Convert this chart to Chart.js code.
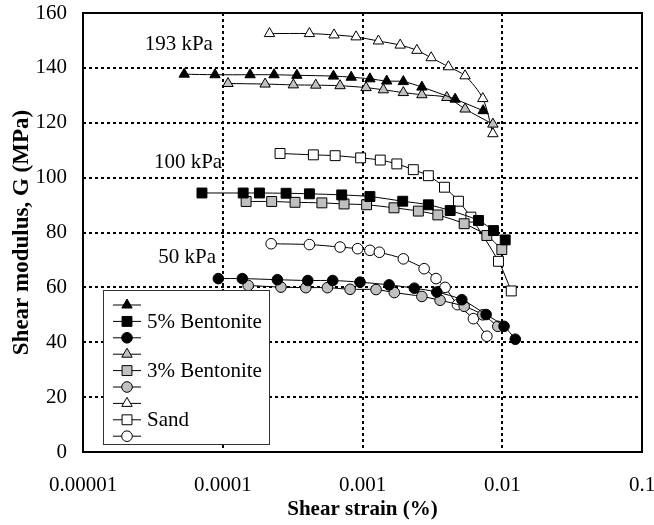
<!DOCTYPE html>
<html><head><meta charset="utf-8">
<script src="https://cdn.jsdelivr.net/npm/chart.js@4.4.0/dist/chart.umd.min.js"></script>
<style>html,body{margin:0;padding:0;background:#fff;} canvas{display:block;}</style>
</head><body>
<canvas id="c" width="654" height="525"></canvas>
<script>
// ---- tick labels ----
const xTickValues = [1e-5, 1e-4, 1e-3, 1e-2, 1e-1];
const xTickLabels = ['0.00001', '0.0001', '0.001', '0.01', '0.1'];
const yTickValues = [0, 20, 40, 60, 80, 100, 120, 140, 160];

// ---- series: shear strain (%) and shear modulus G (MPa) ----
const b5_193_strain = [5.3e-5, 8.8e-5, 1.57e-4, 2.33e-4, 3.39e-4, 6.2e-4, 8.3e-4, 1.13e-3, 1.49e-3, 1.96e-3, 2.66e-3, 4.6e-3, 7.3e-3];
const b5_193_G      = [137.7, 137.5, 137.5, 137.5, 137.3, 137.0, 136.6, 136.0, 135.2, 135.0, 133.0, 128.6, 124.4];
const b5_100_strain = [7.1e-5, 1.40e-4, 1.83e-4, 2.84e-4, 4.17e-4, 7.1e-4, 1.13e-3, 1.94e-3, 2.96e-3, 4.24e-3, 6.76e-3, 8.65e-3, 1.05e-2];
const b5_100_G      = [94.4, 94.4, 94.4, 94.3, 94.1, 93.7, 93.1, 91.4, 90.1, 88.0, 84.4, 80.7, 77.3];
const b5_50_strain  = [9.3e-5, 1.38e-4, 2.46e-4, 4.06e-4, 6.12e-4, 9.6e-4, 1.55e-3, 2.35e-3, 3.4e-3, 5.14e-3, 7.67e-3, 1.03e-2, 1.24e-2];
const b5_50_G       = [63.2, 63.2, 62.8, 62.5, 62.5, 61.9, 60.9, 59.7, 58.3, 55.5, 50.1, 45.8, 41.1];

const b3_193_strain = [1.09e-4, 2.01e-4, 3.2e-4, 4.63e-4, 6.91e-4, 1.06e-3, 1.41e-3, 1.96e-3, 2.66e-3, 4.01e-3, 5.42e-3, 8.57e-3];
const b3_193_G      = [134.3, 134.1, 133.8, 133.7, 133.5, 132.8, 132.0, 131.0, 130.2, 129.2, 125.0, 119.5];
const b3_100_strain = [1.47e-4, 2.24e-4, 3.29e-4, 5.12e-4, 7.38e-4, 1.07e-3, 1.68e-3, 2.51e-3, 3.46e-3, 5.34e-3, 7.76e-3, 9.93e-3];
const b3_100_G      = [91.3, 91.3, 91.0, 90.8, 90.4, 90.1, 89.0, 87.8, 86.4, 83.2, 78.9, 73.8];
const b3_50_strain  = [1.52e-4, 2.61e-4, 3.93e-4, 5.61e-4, 8.15e-4, 1.25e-3, 1.69e-3, 2.66e-3, 3.59e-3, 5.34e-3, 7.26e-3, 9.3e-3];
const b3_50_G       = [60.7, 60.1, 59.9, 59.9, 59.3, 59.2, 58.1, 56.7, 55.3, 53.1, 50.0, 45.8];

const sand_193_strain = [2.16e-4, 4.17e-4, 6.26e-4, 9.0e-4, 1.30e-3, 1.86e-3, 2.45e-3, 3.10e-3, 4.12e-3, 5.42e-3, 7.26e-3, 8.57e-3];
const sand_193_G      = [152.5, 152.5, 152.0, 151.3, 149.8, 148.3, 146.4, 143.7, 140.4, 137.1, 128.8, 116.0];
const sand_100_strain = [2.57e-4, 4.45e-4, 6.37e-4, 9.7e-4, 1.34e-3, 1.76e-3, 2.31e-3, 2.96e-3, 3.86e-3, 4.86e-3, 5.96e-3, 9.4e-3, 1.16e-2];
const sand_100_G      = [108.8, 108.3, 108.0, 107.2, 106.4, 105.0, 102.9, 100.7, 96.5, 91.4, 85.6, 69.5, 58.7];
const sand_50_strain  = [2.22e-4, 4.17e-4, 6.91e-4, 9.23e-4, 1.13e-3, 1.32e-3, 1.96e-3, 2.76e-3, 3.36e-3, 3.9e-3, 4.78e-3, 6.22e-3, 7.76e-3];
const sand_50_G       = [75.9, 75.6, 74.7, 74.1, 73.5, 72.8, 70.4, 66.8, 63.2, 60.0, 53.7, 48.6, 42.2];

const legendNames = ['', '5% Bentonite', '', '', '3% Bentonite', '', '', 'Sand', ''];

// ---- pressure labels (anchored in data space: right edge strain, G) ----
const pressureLabels = ['193 kPa', '100 kPa', '50 kPa'];
const pressureLabelStrain = [8.5e-5, 9.9e-5, 8.95e-5];
const pressureLabelG = [148.7, 105.5, 70.9];

// ---- styles ----
const FONT = '"Liberation Serif", "Times New Roman", serif';
const BLACK = '#000000', GREY = '#c0c0c0', WHITE = '#ffffff';
const R = { triangle: 6, rect: 7, circle: 5.3 };

function series(label, xs, gs, style, fill) {
  return {
    label: label,
    data: xs.map((x, i) => ({ x: x, y: gs[i] })),
    showLine: true,
    tension: 0.3,
    borderColor: '#000',
    borderWidth: 1,
    backgroundColor: fill,
    pointStyle: style,
    pointRadius: R[style],
    pointHoverRadius: R[style],
    pointBackgroundColor: fill,
    pointBorderColor: '#000',
    pointBorderWidth: 1,
    fill: false
  };
}

const datasets = [
  series(legendNames[0], b5_193_strain, b5_193_G, 'triangle', BLACK),
  series(legendNames[1], b5_100_strain, b5_100_G, 'rect', BLACK),
  series(legendNames[2], b5_50_strain, b5_50_G, 'circle', BLACK),
  series(legendNames[3], b3_193_strain, b3_193_G, 'triangle', GREY),
  series(legendNames[4], b3_100_strain, b3_100_G, 'rect', GREY),
  series(legendNames[5], b3_50_strain, b3_50_G, 'circle', GREY),
  series(legendNames[6], sand_193_strain, sand_193_G, 'triangle', WHITE),
  series(legendNames[7], sand_100_strain, sand_100_G, 'rect', WHITE),
  series(legendNames[8], sand_50_strain, sand_50_G, 'circle', WHITE)
];

const framePlugin = {
  id: 'frame',
  afterDatasetsDraw(chart) {
    const { ctx, chartArea: a } = chart;
    ctx.save();
    ctx.strokeStyle = '#000';
    ctx.lineWidth = 2;
    ctx.setLineDash([]);
    ctx.strokeRect(a.left, a.top, a.right - a.left, a.bottom - a.top);
    ctx.restore();
  }
};

const labelPlugin = {
  id: 'pressureLabels',
  afterDatasetsDraw(chart) {
    const { ctx, scales: { x, y } } = chart;
    ctx.save();
    ctx.font = '21px ' + FONT;
    ctx.fillStyle = '#000';
    ctx.textAlign = 'right';
    ctx.textBaseline = 'middle';
    pressureLabels.forEach((t, i) => {
      ctx.fillText(t, x.getPixelForValue(pressureLabelStrain[i]), y.getPixelForValue(pressureLabelG[i]));
    });
    ctx.restore();
  }
};

const legendPlugin = {
  id: 'customLegend',
  afterDraw(chart) {
    const { ctx, chartArea: a } = chart;
    const left = a.left + 20, top = a.bottom - 162, w = 166, h = 154;
    ctx.save();
    ctx.fillStyle = '#fff';
    ctx.fillRect(left, top, w, h);
    ctx.strokeStyle = '#333';
    ctx.lineWidth = 1;
    ctx.setLineDash([]);
    ctx.strokeRect(left + 0.5, top + 0.5, w, h);
    const step = 16.4;
    chart.data.datasets.forEach((d, i) => {
      const cy = top + 15 + i * step;
      ctx.strokeStyle = '#000';
      ctx.lineWidth = 1;
      ctx.beginPath();
      ctx.moveTo(left + 10, cy);
      ctx.lineTo(left + 38, cy);
      ctx.stroke();
      ctx.fillStyle = d.pointBackgroundColor;
      ctx.strokeStyle = '#000';
      Chart.helpers.drawPoint(ctx, { pointStyle: d.pointStyle, rotation: 0, radius: d.pointRadius, borderWidth: 1 }, left + 24, cy);
      if (d.label) {
        ctx.fillStyle = '#000';
        ctx.font = '21px ' + FONT;
        ctx.textAlign = 'left';
        ctx.textBaseline = 'middle';
        ctx.fillText(d.label, left + 44, cy + 1);
      }
    });
    ctx.restore();
  }
};

new Chart(document.getElementById('c'), {
  type: 'scatter',
  data: { datasets: datasets },
  plugins: [framePlugin, labelPlugin, legendPlugin],
  options: {
    responsive: false,
    animation: false,
    events: [],
    layout: { padding: { top: 13, right: 12, bottom: 0, left: 0 } },
    plugins: { legend: { display: false }, tooltip: { enabled: false } },
    scales: {
      x: {
        type: 'logarithmic',
        min: 1e-5, max: 1e-1,
        afterBuildTicks(scale) { scale.ticks = xTickValues.map(v => ({ value: v })); },
        afterFit(scale) { scale.height = 73; scale.paddingLeft = 0; scale.paddingRight = 0; },
        ticks: {
          autoSkip: false, maxRotation: 0, padding: 21,
          color: '#000', font: { family: FONT, size: 21 },
          callback: (v) => { const i = xTickValues.findIndex(t => Math.abs(t - v) / t < 1e-6); return i >= 0 ? xTickLabels[i] : ''; }
        },
        grid: { color: '#000', lineWidth: 2, drawTicks: false },
        border: { display: false, dash: [3, 3] },
        title: { display: true, text: 'Shear strain (%)', color: '#000', font: { family: FONT, size: 21, weight: 'bold' }, padding: { top: 0, bottom: 3 } }
      },
      y: {
        type: 'linear',
        min: 0, max: 160,
        afterBuildTicks(scale) { scale.ticks = yTickValues.map(v => ({ value: v })); },
        afterFit(scale) { scale.width = 83; scale.paddingTop = 0; scale.paddingBottom = 0; },
        ticks: { padding: 16, color: '#000', font: { family: FONT, size: 21 } },
        grid: { color: '#000', lineWidth: 2, drawTicks: false },
        border: { display: false, dash: [3, 3] },
        title: { display: true, text: 'Shear modulus, G (MPa)', color: '#000', font: { family: FONT, size: 23, weight: 'bold' }, padding: { top: 8, bottom: 0 } }
      }
    }
  }
});
</script>
</body></html>
